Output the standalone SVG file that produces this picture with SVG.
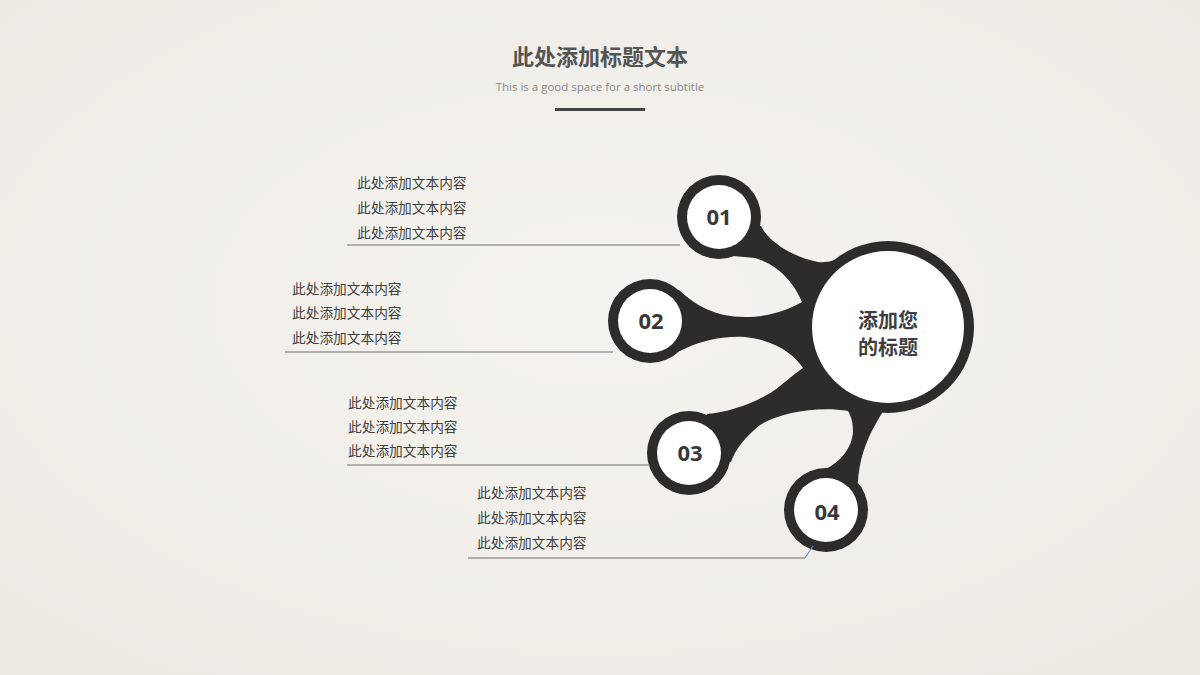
<svg xmlns="http://www.w3.org/2000/svg" width="1200" height="675" viewBox="0 0 1200 675">
<defs>
<style>
.dark{fill:#2e2c2a}
.white{fill:#ffffff}
.num{font-family:"Open Sans","Noto Sans",sans-serif;font-weight:700;font-size:22px;fill:#383838;text-anchor:middle}
.ctr{font-family:"Noto Sans CJK SC",sans-serif;font-weight:700;font-size:20px;fill:#3f3f3f;text-anchor:middle}
.body{font-family:"Noto Sans CJK SC",sans-serif;font-size:13.7px;fill:#404040}
.rule{stroke:#6e6e6e;stroke-width:1.2;fill:none}
</style>
<radialGradient id="paper" cx="50%" cy="45%" r="70%">
<stop offset="0" stop-color="#f5f3ef"/>
<stop offset="1" stop-color="#eeebe5"/>
</radialGradient>
</defs>
<rect width="1200" height="675" fill="url(#paper)"/>
<g id="title">
<text x="600" y="65" text-anchor="middle" font-family="Noto Sans CJK SC, sans-serif" font-weight="700" font-size="22" fill="#555555">此处添加标题文本</text>
<text x="600" y="91" text-anchor="middle" font-family="Open Sans, sans-serif" font-size="11.5" fill="#8a8a8a">This is a good space for a short subtitle</text>
<rect x="555" y="108" width="90" height="3" fill="#444444"/>
</g>
<g id="web">
<path class="dark" d="M719 217 L761 226 C768 241 792 257 818 262 C828 263 836 260 842 256 L888 327 L882 413 C872 430 860 450 858 482 L826 510 L826 469 C840 462 852 448 853 432 C853 422 851 416 848 411 C820 406 780 412 760 425 C745 437 735 450 731 462 L689 453 L707 414 C730 412 760 402 780 386 C790 378 797 372 803 368 C795 355 775 340 745 337 C720 336 700 341 680 351 L650 321 L679 290 C695 305 715 317 745 317 C770 317 790 309 802 302 C795 285 780 265 755 258 C748 257 740 257 733 256 Z"/>
</g>
<g id="center">
<circle class="dark" cx="888" cy="327" r="86"/>
<circle class="white" cx="888" cy="327" r="76"/>
<text class="ctr" x="888" y="328">添加您</text>
<text class="ctr" x="888" y="355">的标题</text>
</g>
<g id="node01">
<circle class="dark" cx="719" cy="217" r="42"/>
<circle class="white" cx="719" cy="217" r="32"/>
<text class="num" x="719" y="225">01</text>
</g>
<g id="node02">
<circle class="dark" cx="650" cy="321" r="42"/>
<circle class="white" cx="650" cy="321" r="32"/>
<text class="num" x="651" y="329">02</text>
</g>
<g id="node03">
<circle class="dark" cx="689" cy="453" r="42"/>
<circle class="white" cx="689" cy="453" r="32"/>
<text class="num" x="690" y="461">03</text>
</g>
<g id="node04">
<circle class="dark" cx="826" cy="510" r="42"/>
<circle class="white" cx="826" cy="510" r="32"/>
<text class="num" x="827" y="520">04</text>
</g>
<g id="connectors">
<line class="rule" x1="347" y1="245" x2="680" y2="245"/>
<line class="rule" x1="285" y1="352" x2="613" y2="352"/>
<line class="rule" x1="347" y1="465" x2="650" y2="465"/>
<line class="rule" x1="468" y1="558" x2="805" y2="558"/>
<line x1="805" y1="558" x2="813" y2="546" stroke="#5b9bd5" stroke-width="1.2"/>
</g>
<g id="text01">
<text class="body" x="357" y="188">此处添加文本内容</text>
<text class="body" x="357" y="213">此处添加文本内容</text>
<text class="body" x="357" y="238">此处添加文本内容</text>
</g>
<g id="text02">
<text class="body" x="292" y="294">此处添加文本内容</text>
<text class="body" x="292" y="318">此处添加文本内容</text>
<text class="body" x="292" y="343">此处添加文本内容</text>
</g>
<g id="text03">
<text class="body" x="348" y="408">此处添加文本内容</text>
<text class="body" x="348" y="432">此处添加文本内容</text>
<text class="body" x="348" y="456">此处添加文本内容</text>
</g>
<g id="text04">
<text class="body" x="477" y="498">此处添加文本内容</text>
<text class="body" x="477" y="523">此处添加文本内容</text>
<text class="body" x="477" y="548">此处添加文本内容</text>
</g>
</svg>
